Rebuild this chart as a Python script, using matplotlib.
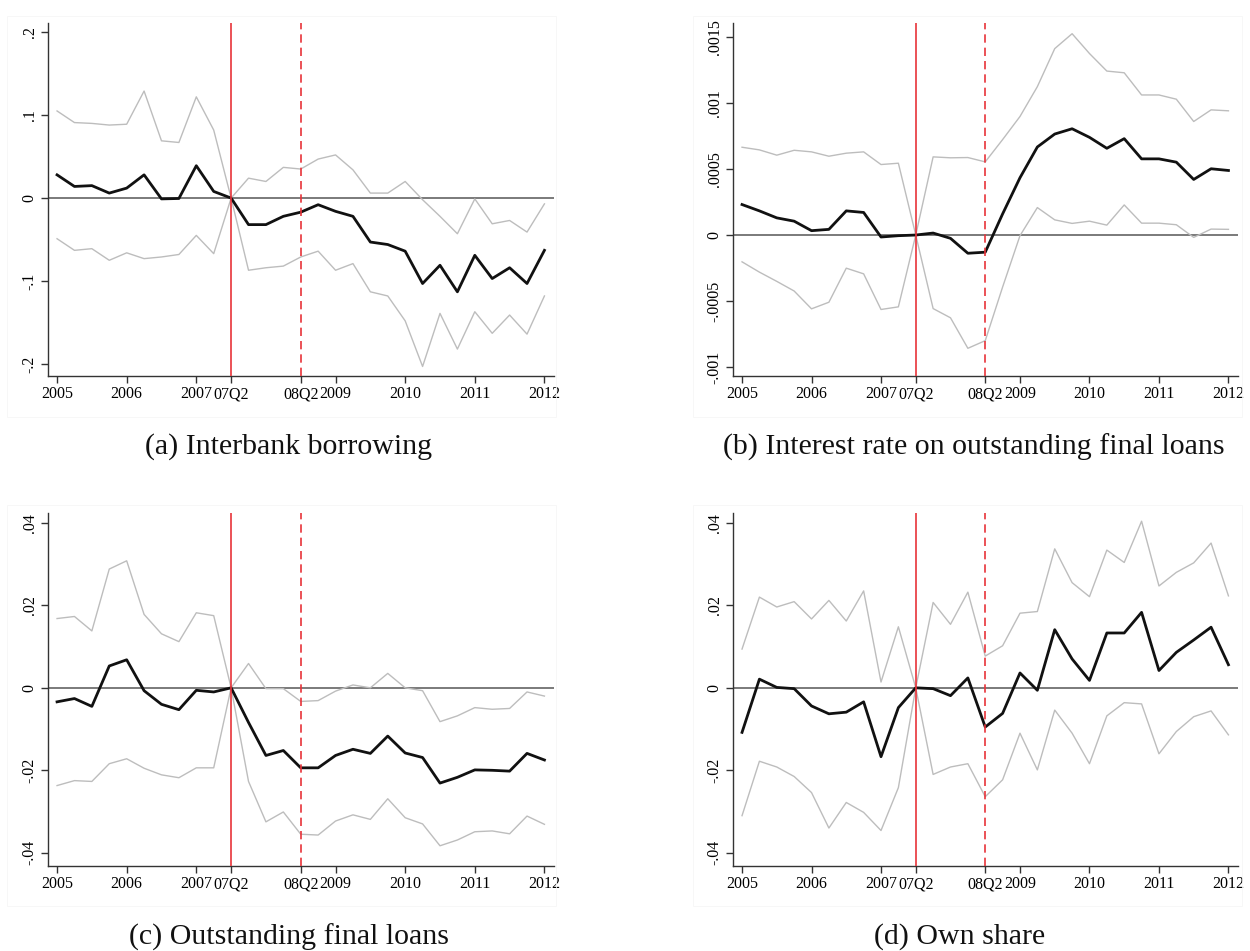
import numpy as np
import matplotlib
matplotlib.use("Agg")
import matplotlib.pyplot as plt
from matplotlib.patches import Rectangle

# quarters 2005Q1 .. 2012Q1
quarters = np.arange(29)
xtick_pos = [0, 4, 8, 10, 14, 16, 20, 24, 28]
xtick_lab = ['2005', '2006', '2007', '07Q2', '08Q2', '2009', '2010', '2011', '2012']
crisis_start = 10  # 07Q2
crisis_peak = 14   # 08Q2

# (a) Interbank borrowing
a_mean = [0.028, 0.014, 0.015, 0.006, 0.012, 0.028, -0.001, -0.0005, 0.039, 0.008, 0.0,
          -0.032, -0.032, -0.022, -0.017, -0.008, -0.016, -0.022, -0.053, -0.056, -0.064,
          -0.103, -0.081, -0.113, -0.069, -0.097, -0.084, -0.103, -0.063]
a_hi = [0.105, 0.091, 0.090, 0.088, 0.089, 0.129, 0.069, 0.067, 0.122, 0.082, 0.0,
        0.024, 0.020, 0.037, 0.035, 0.047, 0.052, 0.034, 0.006, 0.006, 0.020,
        -0.002, -0.022, -0.043, -0.001, -0.031, -0.027, -0.041, -0.007]
a_lo = [-0.049, -0.063, -0.061, -0.075, -0.066, -0.073, -0.071, -0.068, -0.045, -0.067, 0.0,
        -0.087, -0.084, -0.082, -0.071, -0.064, -0.087, -0.079, -0.113, -0.118, -0.148,
        -0.203, -0.139, -0.182, -0.137, -0.163, -0.141, -0.164, -0.118]

# (b) Interest rate on outstanding final loans
b_mean = [0.000231, 0.000183, 0.000130, 0.000105, 0.000033, 0.000043, 0.000183, 0.000171,
          -0.000015, -0.000005, 0.0, 0.000015, -0.000025, -0.000138, -0.000130, 0.000160,
          0.000434, 0.000667, 0.000765, 0.000805, 0.000740, 0.000657, 0.000730, 0.000577,
          0.000577, 0.000552, 0.000421, 0.000502, 0.000489]
b_hi = [0.000665, 0.000645, 0.000605, 0.000642, 0.000630, 0.000597, 0.000620, 0.000630,
        0.000534, 0.000544, 0.0, 0.000592, 0.000585, 0.000587, 0.000554, 0.000723,
        0.000898, 0.001124, 0.001412, 0.001525, 0.001375, 0.001242, 0.001229, 0.001061,
        0.001061, 0.001029, 0.000860, 0.000948, 0.000941]
b_lo = [-0.000203, -0.000281, -0.000351, -0.000424, -0.000559, -0.000509, -0.000251, -0.000294,
        -0.000564, -0.000544, 0.0, -0.000557, -0.000627, -0.000858, -0.000800, -0.000394,
        -0.000005, 0.000208, 0.000115, 0.000088, 0.000105, 0.000075, 0.000228, 0.000090,
        0.000090, 0.000078, -0.000018, 0.000045, 0.000043]

# (c) Outstanding final loans
c_mean = [-0.0034, -0.0026, -0.0045, 0.0053, 0.0068, -0.0007, -0.0040, -0.0053, -0.0006,
          -0.0010, 0.0, -0.0084, -0.0164, -0.0152, -0.0194, -0.0194, -0.0164, -0.0149,
          -0.0159, -0.0117, -0.0158, -0.0169, -0.0231, -0.0217, -0.0199, -0.0200, -0.0202,
          -0.0159, -0.0175]
c_hi = [0.0168, 0.0173, 0.0138, 0.0288, 0.0308, 0.0178, 0.0131, 0.0112, 0.0182, 0.0175, 0.0,
        0.0059, -0.0002, -0.0002, -0.0033, -0.0031, -0.0008, 0.0007, 0.0, 0.0035, 0.0,
        -0.0007, -0.0082, -0.0068, -0.0048, -0.0052, -0.0050, -0.0010, -0.0020]
c_lo = [-0.0237, -0.0225, -0.0227, -0.0184, -0.0172, -0.0195, -0.0211, -0.0218, -0.0194,
        -0.0194, 0.0, -0.0227, -0.0325, -0.0301, -0.0355, -0.0357, -0.0323, -0.0308, -0.0319,
        -0.0269, -0.0315, -0.0330, -0.0383, -0.0369, -0.0349, -0.0347, -0.0354, -0.0311,
        -0.0331]

# (d) Own share
d_mean = [-0.0108, 0.0021, 0.0001, -0.0002, -0.0044, -0.0063, -0.0059, -0.0034, -0.0167,
          -0.0048, 0.0, -0.0002, -0.0019, 0.0024, -0.0095, -0.0062, 0.0036, -0.0006, 0.0141,
          0.0070, 0.0018, 0.0133, 0.0133, 0.0183, 0.0042, 0.0086, 0.0116, 0.0147, 0.0056]
d_hi = [0.0094, 0.0220, 0.0196, 0.0209, 0.0167, 0.0212, 0.0162, 0.0235, 0.0014, 0.0148, 0.0,
        0.0207, 0.0154, 0.0232, 0.0077, 0.0102, 0.0181, 0.0185, 0.0337, 0.0255, 0.0221,
        0.0334, 0.0304, 0.0404, 0.0247, 0.0280, 0.0303, 0.0351, 0.0223]
d_lo = [-0.0310, -0.0178, -0.0192, -0.0215, -0.0254, -0.0340, -0.0278, -0.0302, -0.0346,
        -0.0242, 0.0, -0.0210, -0.0192, -0.0184, -0.0264, -0.0223, -0.0110, -0.0199, -0.0054,
        -0.0110, -0.0184, -0.0068, -0.0036, -0.0039, -0.0160, -0.0106, -0.0070, -0.0056,
        -0.0114]

panels = [
    ('(a) Interbank borrowing', a_mean, a_hi, a_lo,
     [-0.2, -0.1, 0, 0.1, 0.2], ['-.2', '-.1', '0', '.1', '.2'], (-0.2145, 0.211)),
    ('(b) Interest rate on outstanding final loans', b_mean, b_hi, b_lo,
     [-0.001, -0.0005, 0, 0.0005, 0.001, 0.0015],
     ['-.001', '-.0005', '0', '.0005', '.001', '.0015'], (-0.001068, 0.001606)),
    ('(c) Outstanding final loans', c_mean, c_hi, c_lo,
     [-0.04, -0.02, 0, 0.02, 0.04], ['-.04', '-.02', '0', '.02', '.04'], (-0.0432, 0.0424)),
    ('(d) Own share', d_mean, d_hi, d_lo,
     [-0.04, -0.02, 0, 0.02, 0.04], ['-.04', '-.02', '0', '.02', '.04'], (-0.0432, 0.0424)),
]

# axes boxes [left, bottom, width, height] in figure fractions
boxes = [
    [0.0384, 0.6046, 0.4048, 0.3712],
    [0.5864, 0.6046, 0.4040, 0.3712],
    [0.0384, 0.0894, 0.4048, 0.3712],
    [0.5864, 0.0894, 0.4040, 0.3712],
]
frames = [(0.0056, 0.5615), (0.5544, 0.5615), (0.0056, 0.0473), (0.5544, 0.0473)]
caption_pos = [(0.231, 0.530), (0.779, 0.530), (0.231, 0.0147), (0.768, 0.0147)]

fig = plt.figure(figsize=(12.5, 9.51), dpi=100)
tick_font = 'Liberation Serif'

for k, (title, mean, hi, lo, yt, yl, ylim) in enumerate(panels):
    fx, fy = frames[k]
    fig.patches.append(Rectangle((fx, fy), 0.4390, 0.4220, transform=fig.transFigure,
                                 fill=False, edgecolor='#f6f6f6', linewidth=0.6))
    ax = fig.add_axes(boxes[k])
    ax.axhline(0, color='#7a7a7a', linewidth=1.4, zorder=1)
    ax.plot(quarters, hi, color='#bdbdbd', linewidth=1.0, zorder=2)
    ax.plot(quarters, lo, color='#bdbdbd', linewidth=1.0, zorder=2)
    ax.plot(quarters, mean, color='#111111', linewidth=2.0, zorder=3)
    ax.axvline(crisis_start, color='#e8333a', linewidth=1.2, zorder=4)
    ax.axvline(crisis_peak, color='#e8333a', linewidth=1.2, linestyle=(0, (5, 3)), zorder=4)
    ax.set_xlim(-0.52, 28.55)
    ax.set_ylim(*ylim)
    ax.set_xticks(xtick_pos)
    ax.set_xticklabels(xtick_lab, fontfamily=tick_font, fontsize=11.5)
    ax.set_yticks(yt)
    ax.set_yticklabels(yl, fontfamily=tick_font, fontsize=11.5, rotation=90, va='center')
    for s in ['top', 'right']:
        ax.spines[s].set_visible(False)
    for s in ['left', 'bottom']:
        ax.spines[s].set_color('#333333')
        ax.spines[s].set_linewidth(1.0)
    ax.tick_params(direction='out', length=5, width=1.0, color='#333333', pad=2.5)
    cx, cy = caption_pos[k]
    fig.text(cx, cy, title, ha='center', va='center', fontfamily='Liberation Serif',
             fontsize=21.5, color='#111111')

fig.savefig('out.png', dpi=100)
